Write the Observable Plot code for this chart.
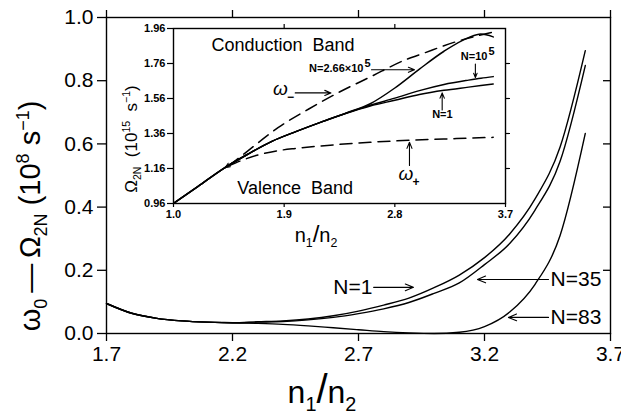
<!DOCTYPE html>
<html><head><meta charset="utf-8">
<script src="https://cdn.jsdelivr.net/npm/d3@7"></script>
<script src="https://cdn.jsdelivr.net/npm/@observablehq/plot@0.6"></script>
<style>
body{margin:0;background:#fff;}
#wrap{position:relative;width:621px;height:414px;overflow:hidden;font-family:"Liberation Sans",Arial,sans-serif;color:#000;}
#main,#inset{position:absolute;left:0;top:0;}
#inset{left:120px;top:20px;}
.lab{position:absolute;white-space:nowrap;transform:translate(-50%,-50%);line-height:1;}
.rot{transform:translate(-50%,-50%) rotate(-90deg);}
sub,sup{font-size:62%;}
</style></head><body>
<div id="wrap">
<div id="main"></div>
<div id="inset"></div>
<div class="lab rot" id="ylab" style="left:32px;top:216px;font-size:29px;">ω<sub>0</sub>&thinsp;—&thinsp;Ω<sub>2N</sub>&nbsp;(10<sup>8</sup>&nbsp;s<sup>−1</sup>)</div>
<div class="lab" id="xlab" style="left:322px;top:392px;font-size:32px;">n<sub>1</sub><span style="font-size:40px;">/</span>n<sub>2</sub></div>
<div class="lab rot" id="iylab" style="left:132px;top:139px;font-size:17px;">Ω<sub>2N</sub>&nbsp;&nbsp;(10<sup>15</sup>&nbsp;&nbsp;s<sup>−1</sup>)</div>
<div class="lab" id="ixlab" style="left:316px;top:236px;font-size:20px;">n<sub>1</sub><span style="font-size:24px;">/</span>n<sub>2</sub></div>
</div>
<script>
// ---- main chart data ----
const xTicks = [1.7, 2.2, 2.7, 3.2, 3.7];
const yTicks = [0.0, 0.2, 0.4, 0.6, 0.8, 1.0];
const nRatio = [1.7,1.8,1.9,2.0,2.1,2.2,2.3,2.4,2.5,2.6,2.7,2.8,2.9,3.0,3.1,3.2,3.3,3.4,3.5,3.6];
const gapN1  = [0.095,0.064,0.048,0.040,0.036,0.034,0.037,0.040,0.046,0.056,0.071,0.090,0.112,0.145,0.185,0.240,0.315,0.425,0.590,0.895];
const gapN35 = [0.095,0.064,0.048,0.040,0.036,0.034,0.036,0.038,0.043,0.051,0.063,0.078,0.098,0.127,0.160,0.218,0.285,0.390,0.545,0.848];
const gapN83 = [0.095,0.064,0.048,0.040,0.036,0.034,0.032,0.029,0.024,0.018,0.012,0.006,0.002,0.000,0.004,0.022,0.068,0.155,0.310,0.633];
const mainSeries = ["N=1","N=35","N=83"];
const mainValues = [gapN1, gapN35, gapN83];
// annotation anchors (data units)
const mainNoteX = [2.755, 3.462, 3.462];
const mainNoteY = [0.146, 0.171, 0.051];
const mainArrowFrom = [2.76, 3.454, 3.454];
const mainArrowTo = [2.918, 3.172, 3.295];

// ---- inset data ----
const insetXTicks = [1.0, 1.9, 2.8, 3.7];
const insetYTicks = [0.96, 1.16, 1.36, 1.56, 1.76, 1.96];
const insetX = [1.0,1.2,1.4,1.6,1.8,2.0,2.2,2.4,2.6,2.8,3.0,3.2,3.4,3.5,3.6];
const omegaN1    = [0.96,1.058,1.157,1.240,1.315,1.372,1.425,1.474,1.517,1.550,1.583,1.607,1.625,1.634,1.643];
const omegaN1e5  = [0.96,1.058,1.157,1.240,1.315,1.372,1.425,1.475,1.521,1.562,1.605,1.640,1.665,1.676,1.685];
const omegaN266e5= [0.96,1.058,1.157,1.240,1.315,1.372,1.425,1.476,1.530,1.620,1.728,1.830,1.908,1.928,1.912];
const omegaMinusX = [1.45,1.6,1.85,2.1,2.35,2.6,2.9,3.0,3.3,3.6];
const omegaMinus  = [1.175,1.258,1.393,1.500,1.597,1.683,1.785,1.810,1.885,1.940];
const omegaPlusX  = [1.45,1.55,1.7,1.85,2.0,2.25,2.6,2.95,3.3,3.6];
const omegaPlus   = [1.175,1.205,1.240,1.262,1.275,1.292,1.310,1.322,1.331,1.338];

const font = "Liberation Sans, Arial, sans-serif";

const mainRows = mainSeries.flatMap((s, i) => nRatio.map((x, j) => ({series: s, x, y: mainValues[i][j]})));
const mainNotes = mainSeries.map((s, i) => ({label: s, x: mainNoteX[i], y: mainNoteY[i], x1: mainArrowFrom[i], x2: mainArrowTo[i]}));

const main = Plot.plot({
  width: 621, height: 414,
  marginLeft: 106, marginRight: 11, marginTop: 17, marginBottom: 81,
  x: {domain: [1.7, 3.7]},
  y: {domain: [0, 1.0]},
  style: {fontFamily: font, fontSize: "21px", color: "#000", background: "transparent"},
  marks: [
    Plot.frame({stroke: "#000", strokeWidth: 1.4}),
    Plot.axisX({anchor: "bottom", ticks: xTicks, tickSize: 8, tickPadding: 5, tickFormat: d => d.toFixed(1), label: null, fontSize: 21, strokeWidth: 1.3}),
    Plot.axisX({anchor: "top", ticks: xTicks, tickSize: 8, tickFormat: () => "", label: null, strokeWidth: 1.3}),
    Plot.axisY({anchor: "left", ticks: yTicks, tickSize: 9, tickPadding: 4, tickFormat: d => d.toFixed(1), label: null, fontSize: 21, strokeWidth: 1.3}),
    Plot.axisY({anchor: "left", frameAnchor: "right", ticks: yTicks.slice(1, -1), tickSize: 7, tickFormat: () => "", label: null, strokeWidth: 1.3}),
    Plot.line(mainRows, {x: "x", y: "y", z: "series", stroke: "#000", strokeWidth: 1.4, curve: "monotone-x"}),
    Plot.arrow(mainNotes, {x1: "x1", x2: "x2", y1: "y", y2: "y", stroke: "#000", strokeWidth: 1.1, headLength: 12, headAngle: 45}),
    Plot.text(mainNotes.slice(0, 1), {x: "x", y: "y", text: "label", textAnchor: "end", fontSize: 21, fill: "#000"}),
    Plot.text(mainNotes.slice(1), {x: "x", y: "y", text: "label", textAnchor: "start", fontSize: 21, fill: "#000"})
  ]
});
document.getElementById("main").append(main);

// ---- inset ----
const insetSeries = [
  {name: "N=1", ys: omegaN1},
  {name: "N=1e5", ys: omegaN1e5},
  {name: "N=2.66e5", ys: omegaN266e5}
];
const solidRows = insetSeries.flatMap(s => insetX.map((x, j) => ({series: s.name, x, y: s.ys[j]})));
const dashRows = [
  ...omegaMinusX.map((x, j) => ({series: "omega-", x, y: omegaMinus[j]})),
  ...omegaPlusX.map((x, j) => ({series: "omega+", x, y: omegaPlus[j]}))
];
const bandLabels = [
  {text: "Conduction  Band", x: 1.89, y: 1.866},
  {text: "Valence  Band", x: 1.99, y: 1.045}
];
const insetArrows = [
  {x1: 2.61, y1: 1.724, x2: 2.96, y2: 1.724},
  {x1: 1.99, y1: 1.592, x2: 2.28, y2: 1.592},
  {x1: 3.455, y1: 1.757, x2: 3.455, y2: 1.680},
  {x1: 3.185, y1: 1.495, x2: 3.185, y2: 1.592},
  {x1: 2.919, y1: 1.177, x2: 2.919, y2: 1.310},
  {x1: 1.53, y1: 1.214, x2: 1.42, y2: 1.165}
];
const boldNotes = [
  {text: "N=2.66×10", sup: "5", x: 2.545, y: 1.731},
  {text: "N=10", sup: "5", x: 3.553, y: 1.803}
];
const plainNote = [{text: "N=1", x: 3.187, y: 1.470}];
const omegaNotes = [
  {sym: "ω", sub: "−", x: 1.87, y: 1.612},
  {sym: "ω", sub: "+", x: 2.89, y: 1.128}
];

const inset = Plot.plot({
  width: 395, height: 235,
  marginLeft: 53, marginRight: 10, marginTop: 8, marginBottom: 52,
  x: {domain: [1.0, 3.7]},
  y: {domain: [0.96, 1.96]},
  style: {fontFamily: font, fontSize: "11px", color: "#000", background: "transparent", overflow: "visible"},
  marks: [
    Plot.frame({fill: "#fff", stroke: "#000", strokeWidth: 1.4}),
    Plot.axisX({anchor: "bottom", ticks: insetXTicks, tickSize: 4, tickPadding: 3, tickFormat: d => d.toFixed(1), label: null, fontSize: 11, fontWeight: "bold", strokeWidth: 1.2}),
    Plot.axisX({anchor: "top", ticks: insetXTicks.slice(1, -1), tickSize: 5, tickFormat: () => "", label: null, strokeWidth: 1.2}),
    Plot.axisY({anchor: "left", ticks: insetYTicks, tickSize: 6, tickPadding: 2, tickFormat: d => d.toFixed(2), label: null, fontSize: 11, fontWeight: "bold", strokeWidth: 1.2}),
    Plot.axisY({anchor: "right", ticks: insetYTicks.slice(1, -1), tickSize: 4, tickFormat: () => "", label: null, strokeWidth: 1.2}),
    Plot.line(solidRows, {x: "x", y: "y", z: "series", stroke: "#000", strokeWidth: 1.5, curve: "monotone-x"}),
    Plot.line(dashRows, {x: "x", y: "y", z: "series", stroke: "#000", strokeWidth: 1.5, strokeDasharray: "12,7", curve: "monotone-x"}),
    Plot.arrow(insetArrows, {x1: "x1", y1: "y1", x2: "x2", y2: "y2", stroke: "#000", strokeWidth: 1.1, headLength: 9, headAngle: 45}),
    Plot.text(bandLabels, {x: "x", y: "y", text: "text", fontSize: 18, fill: "#000"}),
    Plot.text(boldNotes, {x: "x", y: "y", text: "text", textAnchor: "end", fontSize: 11, fontWeight: "bold", fill: "#000"}),
    Plot.text(boldNotes, {x: "x", y: "y", text: "sup", textAnchor: "start", dx: 1, dy: -5, fontSize: 11, fontWeight: "bold", fill: "#000"}),
    Plot.text(plainNote, {x: "x", y: "y", text: "text", fontSize: 11, fontWeight: "bold", fill: "#000"}),
    Plot.text(omegaNotes, {x: "x", y: "y", text: "sym", fontSize: 19, fontStyle: "italic", fill: "#000"}),
    Plot.text(omegaNotes, {x: "x", y: "y", text: "sub", dx: 10, dy: 8, fontSize: 12, fontWeight: "bold", fill: "#000"})
  ]
});
document.getElementById("inset").append(inset);
</script>
</body></html>
